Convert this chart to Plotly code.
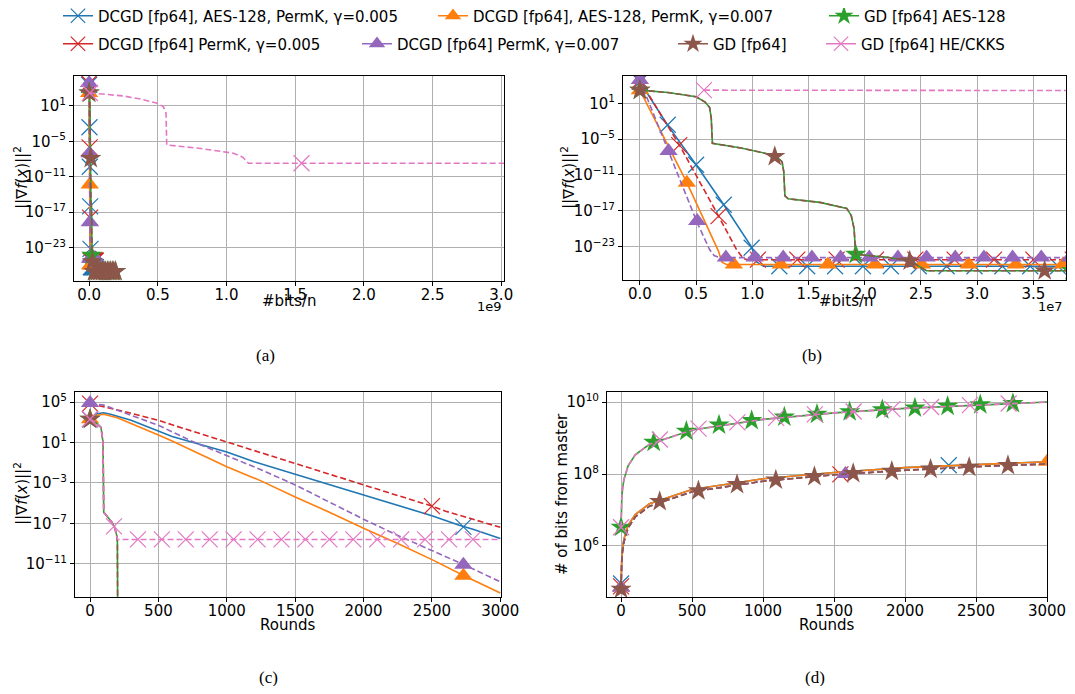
import plotly.graph_objects as go

# The page body adds an 8px margin on every side; the figure is sized so the
# page does not overflow, and reference pixel p maps to figure pixel p - OFF.
OFF = 8
W, H = 1059, 678
FONT = "DejaVu Sans"
DASH = "6px,3px"

# ---------------- data ----------------
# Panels (a) and (b): x = #bits/n in units of 1e7, y = log10(||grad f(x)||^2)
ab_blue_x = [0, 0.248, 0.5, 0.746, 0.994, 1.04, 1.10, 8.0]
ab_blue_log = [4.6, -2.7, -9.3, -16.0, -23.1, -25.6, -26.3, -26.3]
ab_blue_mx = [0, 0.248, 0.5, 0.746, 0.994, 1.24, 1.488, 1.736, 1.984, 2.232, 2.48, 2.728,
              2.976, 3.224, 3.472, 3.72, 3.968, 4.216, 4.464, 4.712, 4.96]
ab_blue_mlog = [4.6, -2.6, -9.3, -16.0, -23.2, -26.3, -26.3, -26.3, -26.3, -26.3, -26.3, -26.3,
                -26.3, -26.3, -26.3, -26.3, -26.3, -26.3, -26.3, -26.3, -26.3]

ab_red_x = [0, 0.358, 0.70, 0.86, 0.92, 0.96, 8.0]
ab_red_log = [4.85, -6.2, -17.9, -23.5, -25.0, -25.2, -25.2]
ab_red_mx = [0, 0.35, 0.70, 1.05, 1.40, 1.75, 2.10, 2.45, 2.80, 3.15, 3.50, 3.85, 4.20, 4.55, 4.90]
ab_red_mlog = [4.85, -6.0, -17.9, -25.2, -25.2, -25.2, -25.2, -25.2, -25.2, -25.2, -25.2, -25.2,
               -25.2, -25.2, -25.2]

ab_orange_x = [0, 0.418, 0.70, 0.73, 0.77, 8.0]
ab_orange_log = [3.2, -12.3, -23.8, -25.6, -26.0, -26.0]
ab_orange_mx = [0, 0.418, 0.836, 1.254, 1.672, 2.09, 2.508, 2.926, 3.344, 3.762, 4.18, 4.598, 5.016]
ab_orange_mlog = [3.2, -12.3, -26.0, -26.0, -26.0, -26.0, -26.0, -26.0, -26.0, -26.0, -26.0, -26.0, -26.0]

ab_purple_x = [0, 0.255, 0.51, 0.62, 0.66, 0.71, 8.0]
ab_purple_log = [4.9, -7.2, -19.0, -23.5, -24.5, -24.85, -24.85]
ab_purple_mx = [0, 0.255, 0.51, 0.765, 1.02, 1.275, 1.53, 1.785, 2.04, 2.295, 2.55, 2.805,
                3.06, 3.315, 3.57, 3.825, 4.08, 4.335, 4.59, 4.845]
ab_purple_mlog = [4.9, -7.0, -18.7, -24.85, -24.85, -24.85, -24.85, -24.85, -24.85, -24.85, -24.85,
                  -24.85, -24.85, -24.85, -24.85, -24.85, -24.85, -24.85, -24.85, -24.85]

# GD [fp64] AES-128 and GD [fp64] follow the same trajectory
ab_gd_x = [0, 0.25, 0.5, 0.58, 0.62, 0.635, 0.645, 0.9, 1.12, 1.22, 1.265, 1.28, 1.29, 1.32,
           1.6, 1.84, 1.88, 1.905, 1.92, 2.2, 2.4, 2.48, 2.55, 20.0]
ab_gd_log = [3.2, 2.8, 2.1, 1.2, 0.3, -1.5, -5.7, -6.5, -7.4, -8.0, -8.8, -10.5, -14.5, -15.0,
             -15.6, -16.6, -17.8, -20.0, -24.3, -24.8, -25.4, -26.3, -27.05, -27.05]
ab_green_mx = [0, 1.92, 3.84, 5.76, 7.68, 9.6, 11.52, 13.44, 15.36, 17.28, 19.2]
ab_green_mlog = [3.2, -24.3, -27.05, -27.05, -27.05, -27.05, -27.05, -27.05, -27.05, -27.05, -27.05]
ab_brown_mx = [0, 1.2, 2.4, 3.6, 4.8, 6.0, 7.2, 8.4, 9.6, 10.8, 12.0, 13.2, 14.4, 15.6, 16.8, 18.0, 19.2]
ab_brown_mlog = [3.2, -7.9, -25.4, -27.05, -27.05, -27.05, -27.05, -27.05, -27.05, -27.05, -27.05,
                 -27.05, -27.05, -27.05, -27.05, -27.05, -27.05]

ab_pink_x = [0.57, 25, 39, 49, 54, 56, 56.5, 81, 105, 112, 116, 310]
ab_pink_log = [3.2, 2.7, 2.1, 1.5, 0.9, -0.2, -5.6, -6.2, -7.0, -7.7, -8.7, -8.7]
ab_pink_mx = [0.57, 154.6]
ab_pink_mlog = [3.2, -8.7]

# Panel (c): x = rounds, y = log10(||grad f(x)||^2)
c_blue_x = [0, 50, 100, 150, 300, 500, 600, 1000, 1200, 1500, 2000, 2500, 2700, 2800, 3000]
c_blue_log = [3.3, 3.85, 3.95, 3.8, 3.2, 2.1, 1.6, 0.05, -0.9, -2.15, -4.2, -6.25, -7.2, -7.6, -8.5]
c_blue_mx = [0, 2730]
c_blue_mlog = [3.3, -7.35]

c_red_x = [0, 100, 300, 500, 600, 1000, 1500, 2000, 2500, 2600, 3000]
c_red_log = [4.85, 4.55, 3.9, 3.2, 2.75, 1.05, -1.1, -3.2, -5.3, -5.8, -7.4]
c_red_mx = [0, 2500]
c_red_mlog = [4.85, -5.3]

c_orange_x = [0, 50, 100, 200, 500, 600, 1000, 1250, 1500, 1750, 2000, 2250, 2500, 2750, 3000]
c_orange_log = [3.3, 3.7, 3.8, 3.45, 1.75, 1.15, -1.4, -2.8, -4.4, -5.9, -7.5, -9.0, -10.6, -12.3, -13.9]
c_orange_mx = [0, 2730]
c_orange_mlog = [3.3, -12.2]

c_purple_x = [0, 100, 300, 500, 750, 1000, 1250, 1500, 1750, 2000, 2250, 2500, 2750, 3000]
c_purple_log = [4.9, 4.7, 3.7, 2.7, 1.1, -0.3, -1.7, -3.2, -4.9, -6.6, -8.2, -9.7, -11.2, -12.8]
c_purple_mx = [0, 2730]
c_purple_mlog = [4.9, -11.1]

c_gd_x = [0, 40, 80, 95, 100, 130, 160, 180, 195, 200, 202, 3000]
c_gd_log = [3.3, 3.0, 2.5, 1.0, -5.9, -6.4, -6.9, -7.4, -8.2, -8.8, -16.0, -30.0]
c_green_mx = [0]
c_green_mlog = [3.3]
c_brown_mx = [0]
c_brown_mlog = [3.3]

c_pink_x = [0, 40, 80, 95, 100, 130, 160, 180, 195, 200, 3000]
c_pink_log = [3.3, 3.0, 2.5, 1.0, -5.9, -6.4, -6.9, -7.4, -8.2, -8.6, -8.6]
c_pink_mx = [0, 175, 350, 525, 700, 875, 1050, 1225, 1400, 1575, 1750, 1925, 2100, 2275, 2450, 2625, 2800]
c_pink_mlog = [3.3, -7.3, -8.6, -8.6, -8.6, -8.6, -8.6, -8.6, -8.6, -8.6, -8.6, -8.6, -8.6, -8.6,
               -8.6, -8.6, -8.6]

# Panel (d): x = rounds, y = # of bits from master
d_rounds = [0, 1, 2, 5, 10, 20, 50, 100, 200, 500, 1000, 1500, 2000, 2500, 3000]
d_gd_aes = [3.3e6, 6.7e6, 1.0e7, 2.0e7, 3.7e7, 7.0e7, 1.7e8, 3.4e8, 6.7e8, 1.67e9, 3.3e9, 5.0e9,
            6.7e9, 8.3e9, 1.0e10]
d_he = [3.3e6, 6.7e6, 1.0e7, 2.0e7, 3.7e7, 7.0e7, 1.7e8, 3.4e8, 6.7e8, 1.67e9, 3.3e9, 5.0e9,
        6.7e9, 8.3e9, 1.0e10]
d_dcgd_aes = [7.4e4, 1.5e5, 2.2e5, 4.4e5, 8.1e5, 1.55e6, 3.8e6, 7.4e6, 1.5e7, 3.7e7, 7.4e7, 1.1e8,
              1.5e8, 1.85e8, 2.2e8]
d_dcgd_perm = [6.3e4, 1.3e5, 1.9e5, 3.8e5, 6.9e5, 1.3e6, 3.2e6, 6.4e6, 1.27e7, 3.2e7, 6.3e7, 9.5e7,
               1.27e8, 1.6e8, 1.9e8]
d_gd = [6.3e4, 1.3e5, 1.9e5, 3.8e5, 6.9e5, 1.3e6, 3.2e6, 6.4e6, 1.27e7, 3.2e7, 6.3e7, 9.5e7,
        1.27e8, 1.6e8, 1.9e8]

d_blue_mx = [0, 2308]
d_blue_my = [9.0e4, 1.75e8]
d_red_mx = [0, 1545]
d_red_my = [7.5e4, 9.8e7]
d_orange_mx = [0, 3000]
d_orange_my = [7.0e4, 2.2e8]
d_purple_mx = [0, 1580]
d_purple_my = [7.0e4, 1.0e8]
d_green_mx = [0, 230, 460, 690, 920, 1150, 1380, 1610, 1840, 2070, 2300, 2530, 2760]
d_green_my = [3.3e6, 7.7e8, 1.54e9, 2.3e9, 3.07e9, 3.83e9, 4.6e9, 5.37e9, 6.13e9, 6.9e9, 7.67e9,
              8.43e9, 9.2e9]
d_brown_mx = [0, 272, 545, 817, 1090, 1362, 1635, 1907, 2180, 2452, 2725]
d_brown_my = [6.3e4, 1.72e7, 3.44e7, 5.15e7, 6.87e7, 8.58e7, 1.03e8, 1.2e8, 1.37e8, 1.55e8, 1.72e8]
d_pink_mx = [0, 273, 546, 819, 1092, 1365, 1638, 1911, 2184, 2457, 2730]
d_pink_my = [3.3e6, 9.1e8, 1.82e9, 2.73e9, 3.64e9, 4.55e9, 5.46e9, 6.37e9, 7.28e9, 8.19e9, 9.1e9]

# legend labels
names = {
    "blue": "DCGD [fp64], AES-128, PermK, γ=0.005",
    "orange": "DCGD [fp64], AES-128, PermK, γ=0.007",
    "green": "GD [fp64] AES-128",
    "red": "DCGD [fp64] PermK, γ=0.005",
    "purple": "DCGD [fp64] PermK, γ=0.007",
    "brown": "GD [fp64]",
    "pink": "GD [fp64] HE/CKKS",
}

# ---------------- styling ----------------
STY = {
    "blue": dict(color="#1f77b4", dash="solid", symbol="x-thin"),
    "red": dict(color="#d62728", dash=DASH, symbol="x-thin"),
    "orange": dict(color="#ff7f0e", dash="solid", symbol="triangle-up"),
    "purple": dict(color="#9467bd", dash=DASH, symbol="triangle-up"),
    "green": dict(color="#2ca02c", dash="solid", symbol="star"),
    "brown": dict(color="#8c564b", dash=DASH, symbol="star"),
    "pink": dict(color="#e377c2", dash=DASH, symbol="x-thin"),
}


def mstyle(key, scale=1.0):
    s = STY[key]
    if s["symbol"] == "x-thin":
        return dict(symbol="x-thin", size=16 * scale, color=s["color"],
                    line=dict(width=1.2, color=s["color"]))
    if s["symbol"] == "triangle-up":
        return dict(symbol="triangle-up", size=16 * scale, color=s["color"], line=dict(width=0))
    return dict(symbol="star", size=16 * scale, color=s["color"], line=dict(width=0))


fig = go.Figure()


def add(key, x, y, mx, my, xa, ya):
    s = STY[key]
    fig.add_trace(go.Scatter(x=x, y=y, mode="lines", xaxis=xa, yaxis=ya, showlegend=False,
                             line=dict(color=s["color"], width=1.6, dash=s["dash"]),
                             hoverinfo="skip"))
    fig.add_trace(go.Scatter(x=mx, y=my, mode="markers", xaxis=xa, yaxis=ya, showlegend=False,
                             marker=mstyle(key), hoverinfo="skip"))


def pw(v):
    return [10 ** e for e in v]


ab_series = [
    ("blue", ab_blue_x, ab_blue_log, ab_blue_mx, ab_blue_mlog),
    ("red", ab_red_x, ab_red_log, ab_red_mx, ab_red_mlog),
    ("orange", ab_orange_x, ab_orange_log, ab_orange_mx, ab_orange_mlog),
    ("purple", ab_purple_x, ab_purple_log, ab_purple_mx, ab_purple_mlog),
    ("green", ab_gd_x, ab_gd_log, ab_green_mx, ab_green_mlog),
    ("brown", ab_gd_x, ab_gd_log, ab_brown_mx, ab_brown_mlog),
    ("pink", ab_pink_x, ab_pink_log, ab_pink_mx, ab_pink_mlog),
]
# (a): x axis in units of 1e9, (b): units of 1e7
for key, x, lg, mx, mlg in ab_series:
    add(key, [v / 100 for v in x], pw(lg), [v / 100 for v in mx], pw(mlg), "x", "y")
for key, x, lg, mx, mlg in ab_series:
    add(key, x, pw(lg), mx, pw(mlg), "x2", "y2")

c_series = [
    ("blue", c_blue_x, c_blue_log, c_blue_mx, c_blue_mlog),
    ("red", c_red_x, c_red_log, c_red_mx, c_red_mlog),
    ("orange", c_orange_x, c_orange_log, c_orange_mx, c_orange_mlog),
    ("purple", c_purple_x, c_purple_log, c_purple_mx, c_purple_mlog),
    ("green", c_gd_x, c_gd_log, c_green_mx, c_green_mlog),
    ("brown", c_gd_x, c_gd_log, c_brown_mx, c_brown_mlog),
    ("pink", c_pink_x, c_pink_log, c_pink_mx, c_pink_mlog),
]
for key, x, lg, mx, mlg in c_series:
    add(key, x, pw(lg), mx, pw(mlg), "x3", "y3")

d_series = [
    ("blue", d_dcgd_aes, d_blue_mx, d_blue_my),
    ("red", d_dcgd_perm, d_red_mx, d_red_my),
    ("orange", d_dcgd_aes, d_orange_mx, d_orange_my),
    ("purple", d_dcgd_perm, d_purple_mx, d_purple_my),
    ("green", d_gd_aes, d_green_mx, d_green_my),
    ("brown", d_gd, d_brown_mx, d_brown_my),
    ("pink", d_he, d_pink_mx, d_pink_my),
]
for key, y, mx, my in d_series:
    add(key, d_rounds, y, mx, my, "x4", "y4")


def fx(p):
    return (p - OFF) / W


def fy(p):
    return 1 - (p - OFF) / H


# ---------------- legend (one entry per positioned legend) ----------------
leg_layout = [  # key, text start x (px), row centre y (px)
    ("blue", 98, 16), ("orange", 473, 16), ("green", 864, 16),
    ("red", 98, 44), ("purple", 397, 44), ("brown", 713, 44), ("pink", 861, 44),
]
legend_defs = {}
for i, (key, tx, ty) in enumerate(leg_layout):
    lname = "legend" if i == 0 else f"legend{i + 1}"
    s = STY[key]
    fig.add_trace(go.Scatter(x=[None], y=[None], mode="lines+markers", name=names[key],
                             xaxis="x", yaxis="y", legend=lname, showlegend=True,
                             line=dict(color=s["color"], width=1.6, dash="solid"),
                             marker=mstyle(key, 0.9)))
    legend_defs[lname] = dict(x=fx(tx - 40), y=fy(ty), xanchor="left", yanchor="middle",
                              bgcolor="rgba(0,0,0,0)", borderwidth=0, orientation="h",
                              font=dict(family=FONT, size=15, color="black"),
                              itemsizing="trace")


# ---------------- axes ----------------
def axbase():
    return dict(showline=True, linecolor="black", linewidth=1, mirror=True,
                ticks="outside", ticklen=4, tickwidth=1, tickcolor="black",
                showgrid=True, gridcolor="#b0b0b0", gridwidth=1, zeroline=False,
                automargin=False, ticklabeloverflow="allow",
                tickfont=dict(family=FONT, size=15, color="black"), fixedrange=True)


def xbase():
    d = axbase()
    d.update(ticklabelstandoff=-4)
    return d


def sup(e):
    return "10<sup>" + str(e).replace("-", "−") + "</sup>"


def dom_x(a, b):
    return [fx(a), fx(b)]


def dom_y(top, bottom):
    return [fy(bottom), fy(top)]


ab_ticks_y = [1, -5, -11, -17, -23]
layout = dict(
    width=W, height=H, margin=dict(l=0, r=0, t=0, b=0, pad=0, autoexpand=False),
    paper_bgcolor="white", plot_bgcolor="white", showlegend=True,
    font=dict(family=FONT, size=15, color="black"),
)
xa = xbase(); xa.update(domain=dom_x(74, 504), range=[-0.11, 3.02], anchor="y",
                        tickvals=[0, 0.5, 1.0, 1.5, 2.0, 2.5, 3.0],
                        ticktext=["0.0", "0.5", "1.0", "1.5", "2.0", "2.5", "3.0"])
ya = axbase(); ya.update(domain=dom_y(76, 281), type="log", range=[-28.65, 6.08], anchor="x",
                         tickvals=[10 ** e for e in ab_ticks_y], ticktext=[sup(e) for e in ab_ticks_y])
xb = xbase(); xb.update(domain=dom_x(623, 1066), range=[-0.15, 3.79], anchor="y2",
                        tickvals=[0, 0.5, 1.0, 1.5, 2.0, 2.5, 3.0, 3.5],
                        ticktext=["0.0", "0.5", "1.0", "1.5", "2.0", "2.5", "3.0", "3.5"])
yb = axbase(); yb.update(domain=dom_y(76, 280), type="log", range=[-28.6, 5.57], anchor="x2",
                         tickvals=[10 ** e for e in ab_ticks_y], ticktext=[sup(e) for e in ab_ticks_y])
c_ticks_y = [5, 1, -3, -7, -11]
xc = xbase(); xc.update(domain=dom_x(75, 501), range=[-110, 3005], anchor="y3",
                        tickvals=[0, 500, 1000, 1500, 2000, 2500, 3000])
yc = axbase(); yc.update(domain=dom_y(392, 597), type="log", range=[-14.3, 6.0], anchor="x3",
                         tickvals=[10 ** e for e in c_ticks_y], ticktext=[sup(e) for e in c_ticks_y])
d_ticks_y = [6, 8, 10]
xd = xbase(); xd.update(domain=dom_x(607, 1047), range=[-99, 3000], anchor="y4",
                        tickvals=[0, 500, 1000, 1500, 2000, 2500, 3000])
yd = axbase(); yd.update(domain=dom_y(392, 597), type="log", range=[4.58, 10.28], anchor="x4",
                         tickvals=[10 ** e for e in d_ticks_y], ticktext=[sup(e) for e in d_ticks_y])
layout.update(xaxis=xa, yaxis=ya, xaxis2=xb, yaxis2=yb, xaxis3=xc, yaxis3=yc, xaxis4=xd, yaxis4=yd)
layout.update(legend_defs)


def ann(text, x, y, size=15, angle=0, family=FONT, xanchor="center"):
    return dict(text=text, x=fx(x), y=fy(y), xref="paper", yref="paper", showarrow=False,
                textangle=angle, xanchor=xanchor, yanchor="middle",
                font=dict(family=family, size=size, color="black"))


grad = "||∇<i>f</i>(<i>x</i>)||<sup>2</sup>"
annotations = [
    ann("#bits/n", 289, 301), ann("#bits/n", 846, 301),
    ann("Rounds", 287, 625), ann("Rounds", 826, 625),
    ann("1e9", 504, 306, size=13, xanchor="right"), ann("1e7", 1065, 306, size=13, xanchor="right"),
    ann(grad, 21, 178, angle=-90), ann(grad, 568, 178, angle=-90),
    ann(grad, 21, 494, angle=-90), ann("# of bits from master", 562, 494, angle=-90),
    ann("(a)", 265, 355, size=17, family="Liberation Serif"),
    ann("(b)", 812, 355, size=17, family="Liberation Serif"),
    ann("(c)", 268, 677, size=17, family="Liberation Serif"),
    ann("(d)", 815, 677, size=17, family="Liberation Serif"),
]
layout.update(annotations=annotations)
fig.update_layout(layout)

fig.write_html("out.html", config={"displayModeBar": False})
